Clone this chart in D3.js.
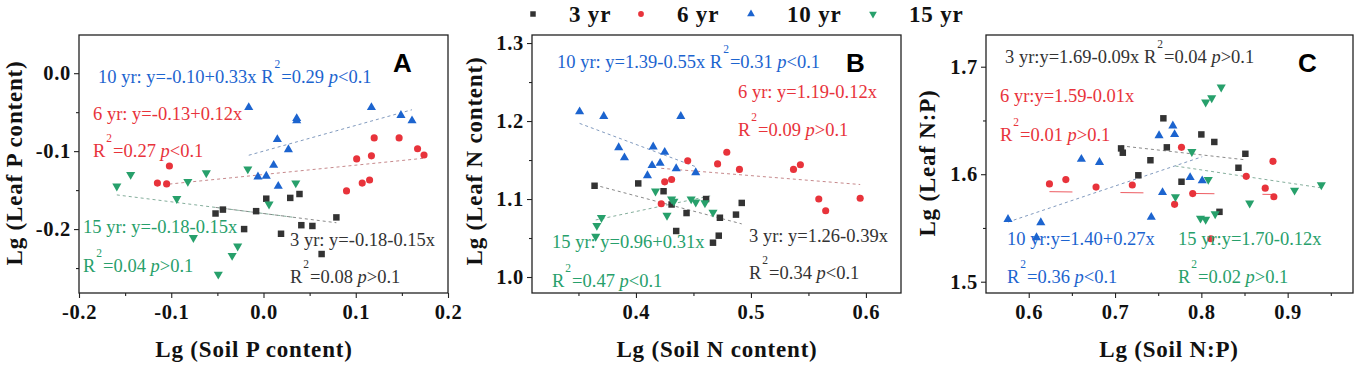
<!DOCTYPE html>
<html>
<head>
<meta charset="utf-8">
<script src="https://cdn.jsdelivr.net/npm/d3@7"></script>
<style>
  body { margin: 0; background: #fff; }
  svg { display: block; font-family: "Liberation Serif", "Times New Roman", serif; }
</style>
</head>
<body>
<svg id="chart" width="1358" height="375"></svg>
<script>
// Series (stand age)
var series = ["3 yr", "6 yr", "10 yr", "15 yr"];
var colors = ["#333333", "#e8333b", "#1c64cf", "#27a06b"];

// Panel A: Lg (Soil P content) vs Lg (Leaf P content)
var a3  = [[-0.052,-0.180],[-0.044,-0.175],[-0.021,-0.200],[-0.008,-0.177],[0.003,-0.161],[0.019,-0.206],[0.029,-0.160],[0.039,-0.155],[0.041,-0.195],[0.053,-0.196],[0.063,-0.232],[0.079,-0.185]];
var a6  = [[-0.115,-0.141],[-0.105,-0.142],[-0.102,-0.119],[0.090,-0.151],[0.101,-0.110],[0.107,-0.141],[0.115,-0.137],[0.117,-0.106],[0.120,-0.083],[0.147,-0.083],[0.167,-0.097],[0.174,-0.105]];
var a10 = [[-0.016,-0.044],[0.015,-0.085],[0.036,-0.058],[0.036,-0.061],[0.027,-0.098],[0.011,-0.118],[-0.006,-0.133],[0.003,-0.132],[0.016,-0.145],[0.117,-0.044],[0.149,-0.054],[0.161,-0.061]];
var a15 = [[-0.159,-0.145],[-0.144,-0.130],[-0.094,-0.161],[-0.082,-0.139],[-0.076,-0.211],[-0.062,-0.128],[-0.049,-0.258],[-0.034,-0.234],[-0.028,-0.222],[-0.017,-0.123],[0.006,-0.168],[0.035,-0.141]];

// Panel B: Lg (Soil N content) vs Lg (Leaf N content)
var b3  = [[0.364,1.117],[0.402,1.120],[0.424,1.110],[0.431,1.093],[0.435,1.059],[0.444,1.082],[0.461,1.100],[0.467,1.044],[0.472,1.053],[0.473,1.076],[0.487,1.080],[0.492,1.095]];
var b6  = [[0.445,1.149],[0.425,1.122],[0.431,1.125],[0.422,1.094],[0.471,1.145],[0.479,1.160],[0.490,1.138],[0.537,1.138],[0.543,1.144],[0.559,1.100],[0.565,1.085],[0.595,1.101]];
var b10 = [[0.351,1.212],[0.372,1.206],[0.385,1.166],[0.390,1.153],[0.415,1.167],[0.425,1.160],[0.414,1.143],[0.421,1.146],[0.410,1.130],[0.435,1.139],[0.452,1.134],[0.439,1.206]];
var b15 = [[0.365,1.052],[0.366,1.066],[0.370,1.076],[0.417,1.110],[0.427,1.079],[0.431,1.100],[0.433,1.097],[0.448,1.100],[0.452,1.096],[0.460,1.095],[0.467,1.083]];

// Panel C: Lg (Soil N:P) vs Lg (Leaf N:P)
var c3  = [[0.707,1.624],[0.709,1.620],[0.727,1.599],[0.741,1.613],[0.756,1.652],[0.760,1.625],[0.777,1.593],[0.800,1.637],[0.815,1.630],[0.821,1.565],[0.843,1.606],[0.851,1.619]];
var c6  = [[0.624,1.591],[0.643,1.595],[0.678,1.588],[0.720,1.590],[0.769,1.572],[0.777,1.625],[0.790,1.582],[0.811,1.540],[0.852,1.598],[0.874,1.587],[0.883,1.612],[0.884,1.579]];
var c10 = [[0.576,1.558],[0.614,1.555],[0.609,1.541],[0.661,1.614],[0.682,1.611],[0.742,1.560],[0.751,1.636],[0.755,1.583],[0.767,1.645],[0.769,1.637],[0.787,1.597],[0.801,1.594]];
var c15 = [[0.789,1.621],[0.805,1.667],[0.812,1.671],[0.823,1.681],[0.770,1.579],[0.808,1.595],[0.799,1.559],[0.805,1.558],[0.816,1.563],[0.856,1.573],[0.908,1.585],[0.939,1.590]];

// Regression fits [intercept, slope] per series (3, 6, 10, 15 yr)
var coefA = [[-0.18,-0.15],[-0.13,0.12],[-0.10,0.33],[-0.18,-0.15]];
var coefB = [[1.26,-0.39],[1.19,-0.12],[1.39,-0.55],[0.96,0.31]];
var coefC = [[1.69,-0.09],[1.59,-0.01],[1.40,0.27],[1.70,-0.12]];

// Tick values
var ticksAx = [-0.2,-0.1,0,0.1,0.2], minorAx = [-0.15,-0.05,0.05,0.15];
var ticksAy = [-0.2,-0.1,0], minorAy = [-0.25,-0.15,-0.05];
var ticksBx = [0.4,0.5,0.6], minorBx = [0.35,0.45,0.55];
var ticksBy = [1.0,1.1,1.2,1.3], minorBy = [1.05,1.15,1.25];
var ticksCx = [0.6,0.7,0.8,0.9], minorCx = [0.65,0.75,0.85,0.95];
var ticksCy = [1.5,1.6,1.7], minorCy = [1.55,1.65];

// Equation labels (text only); s = series index
var notesA = [
  {x: 98, y: 83, s: 2, t: "10 yr: y=-0.10+0.33x ", r2: "0.29", p: "<0.1"},
  {x: 93, y: 120, s: 1, t: "6 yr: y=-0.13+0.12x"},
  {x: 93, y: 157, s: 1, r2: "0.27", p: "<0.1"},
  {x: 83, y: 233, s: 3, t: "15 yr: y=-0.18-0.15x"},
  {x: 83, y: 272, s: 3, r2: "0.04", p: ">0.1"},
  {x: 290, y: 246, s: 0, t: "3 yr: y=-0.18-0.15x"},
  {x: 290, y: 283, s: 0, r2: "0.08", p: ">0.1"}
];
var notesB = [
  {x: 557, y: 68, s: 2, t: "10 yr: y=1.39-0.55x ", r2: "0.31", p: "<0.1"},
  {x: 738, y: 98, s: 1, t: "6 yr: y=1.19-0.12x"},
  {x: 738, y: 136, s: 1, r2: "0.09", p: ">0.1"},
  {x: 552, y: 248, s: 3, t: "15 yr: y=0.96+0.31x"},
  {x: 552, y: 287, s: 3, r2: "0.47", p: "<0.1"},
  {x: 749, y: 242, s: 0, t: "3 yr: y=1.26-0.39x"},
  {x: 749, y: 279, s: 0, r2: "0.34", p: "<0.1"}
];
var notesC = [
  {x: 1005, y: 63, s: 0, t: "3 yr:y=1.69-0.09x ", r2: "0.04", p: ">0.1"},
  {x: 1000, y: 102, s: 1, t: "6 yr:y=1.59-0.01x"},
  {x: 1000, y: 141, s: 1, r2: "0.01", p: ">0.1"},
  {x: 1007, y: 245, s: 2, t: "10 yr:y=1.40+0.27x"},
  {x: 1007, y: 283, s: 2, r2: "0.36", p: "<0.1"},
  {x: 1178, y: 245, s: 3, t: "15 yr:y=1.70-0.12x"},
  {x: 1178, y: 283, s: 3, r2: "0.02", p: ">0.1"}
];

var svg = d3.select("#chart");

var panels = [
  { left: 79, right: 448, top: 35, bottom: 293, xDom: [-0.2, 0.2], yDom: [-0.282, 0.049],
    xt: ticksAx, xm: minorAx, yt: ticksAy, ym: minorAy, data: [a3, a6, a10, a15], coef: coefA,
    notes: notesA, letter: "A", xTitle: "Lg (Soil P content)", yTitle: "Lg (Leaf P content)",
    xTitleX: 254, yTitleX: 22, yTitleY: 163 },
  { left: 532, right: 901, top: 35, bottom: 293, xDom: [0.3096, 0.6305], yDom: [0.9795, 1.3103],
    xt: ticksBx, xm: minorBx, yt: ticksBy, ym: minorBy, data: [b3, b6, b10, b15], coef: coefB,
    notes: notesB, letter: "B", xTitle: "Lg (Soil N content)", yTitle: "Lg (Leaf N content)",
    xTitleX: 717, yTitleX: 482, yTitleY: 161 },
  { left: 986, right: 1353, top: 35, bottom: 293, xDom: [0.5505, 0.9757], yDom: [1.4895, 1.7295],
    xt: ticksCx, xm: minorCx, yt: ticksCy, ym: minorCy, data: [c3, c6, c10, c15], coef: coefC,
    notes: notesC, letter: "C", xTitle: "Lg (Soil N:P)", yTitle: "Lg (Leaf N:P)",
    xTitleX: 1169, yTitleX: 935, yTitleY: 163 }
];

// marker shapes per series
function marker(i, size) {
  var types = [d3.symbolSquare, d3.symbolCircle, d3.symbolTriangle, d3.symbolTriangle];
  var sizes = [42, 40, 36, 36];
  return d3.symbol().type(types[i]).size(size || sizes[i])();
}

function fmt(d) { return d.toFixed(1); }

panels.forEach(function(p) {
  var x = d3.scaleLinear().domain(p.xDom).range([p.left, p.right]);
  var y = d3.scaleLinear().domain(p.yDom).range([p.bottom, p.top]);
  var g = svg.append("g");

  // axes
  g.append("g").attr("transform", "translate(0," + p.bottom + ")")
    .call(d3.axisBottom(x).tickValues(p.xt).tickSize(5).tickPadding(6).tickFormat(fmt));
  g.append("g").attr("transform", "translate(0," + p.bottom + ")")
    .call(d3.axisBottom(x).tickValues(p.xm).tickSize(3).tickFormat(""));
  g.append("g").attr("transform", "translate(" + p.left + ",0)")
    .call(d3.axisLeft(y).tickValues(p.yt).tickSize(5).tickPadding(3).tickFormat(fmt));
  g.append("g").attr("transform", "translate(" + p.left + ",0)")
    .call(d3.axisLeft(y).tickValues(p.ym).tickSize(3).tickFormat(""));

  g.selectAll(".domain").remove();
  g.selectAll(".tick line").attr("stroke", "#222").attr("stroke-width", 1.1);
  g.selectAll(".tick text")
    .attr("fill", "#111")
    .attr("font-family", "Liberation Serif, serif")
    .attr("font-weight", "bold")
    .attr("font-size", 20.5)
    .attr("letter-spacing", "0.7px");

  // frame
  g.append("rect")
    .attr("x", p.left).attr("y", p.top)
    .attr("width", p.right - p.left).attr("height", p.bottom - p.top)
    .attr("fill", "none").attr("stroke", "#222").attr("stroke-width", 1.3);

  // regression lines over each series' x range
  p.coef.forEach(function(c, i) {
    var ext = d3.extent(p.data[i], function(d) { return d[0]; });
    var longDash = (p.letter == "C" && i == 1);
    g.append("line")
      .attr("x1", x(ext[0])).attr("y1", y(c[0] + c[1] * ext[0]))
      .attr("x2", x(ext[1])).attr("y2", y(c[0] + c[1] * ext[1]))
      .attr("stroke", longDash ? colors[i] : d3.interpolateRgb(colors[i], "#888")(0.55))
      .attr("stroke-opacity", longDash ? 0.8 : 0.75)
      .attr("stroke-width", 1)
      .attr("stroke-dasharray", longDash ? "23,48" : "3,3");
  });

  // points
  p.data.forEach(function(pts, i) {
    g.selectAll(".pt" + i)
      .data(pts)
      .enter()
      .append("path")
      .attr("class", "pt" + i)
      .attr("d", marker(i))
      .attr("transform", function(d) {
        return "translate(" + x(d[0]) + "," + y(d[1]) + ")" + (i == 3 ? " rotate(180)" : "");
      })
      .attr("fill", colors[i]);
  });

  // equation labels
  p.notes.forEach(function(n) {
    var t = g.append("text")
      .attr("x", n.x).attr("y", n.y)
      .attr("fill", colors[n.s])
      .attr("font-size", 18.5);
    if (n.t) t.append("tspan").text(n.t);
    if (n.r2) {
      t.append("tspan").text("R");
      t.append("tspan").attr("font-size", 11.5).attr("dy", -15).attr("dx", 1).text("2");
      t.append("tspan").attr("dy", 15).attr("dx", 1).text("=" + n.r2 + " ");
      t.append("tspan").attr("font-style", "italic").text("p");
      t.append("tspan").text(n.p);
    }
  });

  // panel letter
  g.append("text")
    .attr("x", p.right - 55).attr("y", 72)
    .attr("font-family", "Liberation Sans, Arial, sans-serif")
    .attr("font-weight", "bold")
    .attr("font-size", 26)
    .attr("fill", "#000")
    .text(p.letter);

  // axis titles
  g.append("text")
    .attr("x", p.xTitleX).attr("y", 357)
    .attr("text-anchor", "middle")
    .attr("font-weight", "bold")
    .attr("font-size", 23)
    .attr("letter-spacing", "0.8px")
    .attr("fill", "#111")
    .text(p.xTitle);

  g.append("text")
    .attr("transform", "translate(" + p.yTitleX + "," + p.yTitleY + ") rotate(-90)")
    .attr("text-anchor", "middle")
    .attr("font-weight", "bold")
    .attr("font-size", 23)
    .attr("letter-spacing", "0.8px")
    .attr("fill", "#111")
    .text(p.yTitle);
});

// Legend
var legendX = [533, 641, 751, 873];
var legend = svg.append("g");
series.forEach(function(s, i) {
  legend.append("path")
    .attr("d", marker(i, i == 0 ? 30 : 26))
    .attr("transform", "translate(" + legendX[i] + ",14)" + (i == 3 ? " rotate(180)" : ""))
    .attr("fill", colors[i]);
  legend.append("text")
    .attr("x", legendX[i] + 36).attr("y", 22)
    .attr("font-weight", "bold")
    .attr("font-size", 23)
    .attr("letter-spacing", "0.8px")
    .attr("fill", "#111")
    .text(s);
});
</script>
</body>
</html>
